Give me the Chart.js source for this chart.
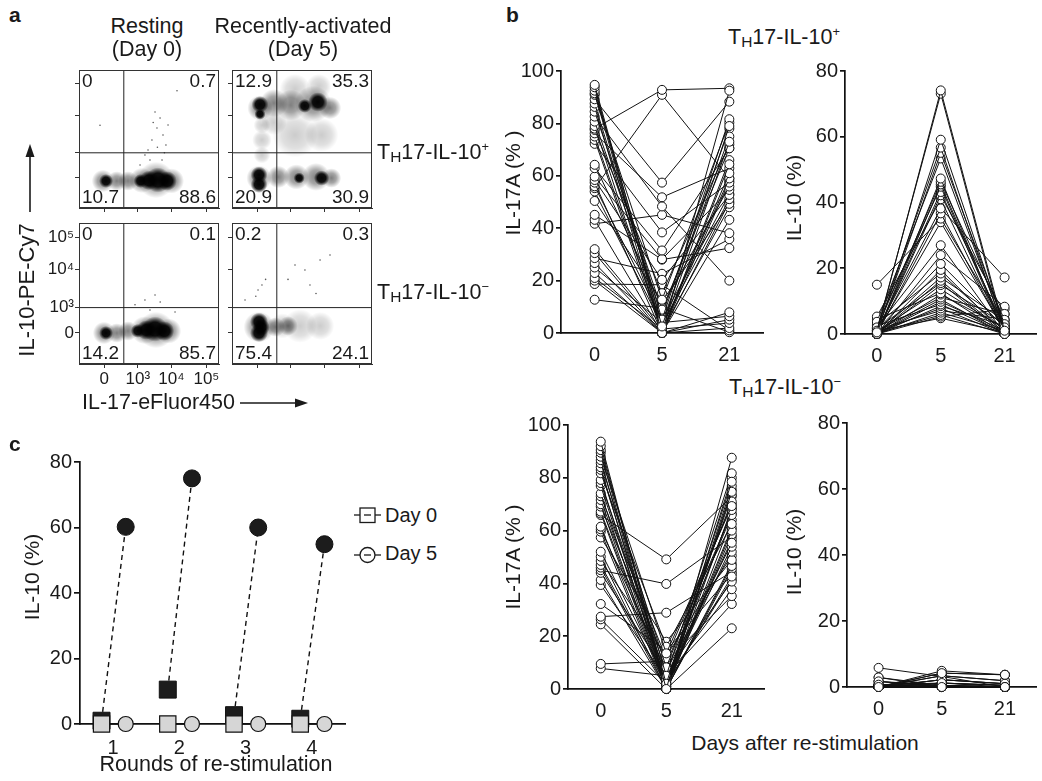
<!DOCTYPE html>
<html lang="en"><head><meta charset="utf-8"><title>TH17 IL-10 figure</title>
<script src="https://cdn.jsdelivr.net/npm/chart.js@4.4.1/dist/chart.umd.min.js"></script>
<style>
html,body{margin:0;padding:0;background:#fff;}
body{width:1042px;height:781px;position:relative;overflow:hidden;font-family:"Liberation Sans",Arial,Helvetica,sans-serif;color:#1a1a1a;}
.box{position:absolute;}
.box canvas{display:block;}
.t{position:absolute;white-space:nowrap;line-height:1;}
.t sub{font-size:0.72em;position:relative;top:0.22em;vertical-align:baseline;line-height:0;}
.t sup{font-size:0.6em;position:relative;top:-0.62em;vertical-align:baseline;line-height:0;}
svg.ov{position:absolute;left:0;top:0;pointer-events:none;}
</style></head><body>
<script>
// ================= DATA =================
// ---- panel a: flow plots (display units 0-100 along each axis) ----
const flowXTicks = [18, 42, 66, 91];
const flowYTicks = [22, 40, 67, 90];
const flowTickLabels = ['0', '10³', '10⁴', '10⁵'];
const gateIL17 = 32;   // vertical quadrant gate
const gateIL10 = 40;   // horizontal quadrant gate
const quadRestPos = ['0', '0.7', '10.7', '88.6'];
const quadActPos  = ['12.9', '35.3', '20.9', '30.9'];
const quadRestNeg = ['0', '0.1', '14.2', '85.7'];
const quadActNeg  = ['0.2', '0.3', '75.4', '24.1'];
// populations: x, y, s = spread (axis units)
const restPosCore = [{x:19.3,y:19.6,s:5},{x:44,y:19.6,s:5},{x:50,y:20,s:7},{x:56.4,y:20.3,s:9},{x:63,y:19.6,s:7}];
const restPosHalo = [{x:17.1,y:19.6,s:8},{x:27,y:19.6,s:7},{x:35,y:19.6,s:7},{x:45,y:20,s:9},{x:55,y:20.3,s:13},{x:66,y:19.6,s:9}];
const restPosDots = [{x:49.3,y:42},{x:52.1,y:49.3},{x:55.7,y:58},{x:57.9,y:65.2},{x:60,y:52.9},{x:50.7,y:34.8},{x:62.1,y:45.7},{x:54.3,y:69.6},{x:47.1,y:38.4},{x:63.6,y:60.1},{x:59.3,y:34.8},{x:43.6,y:31.2},{x:15,y:60},{x:70,y:85},{x:56,y:44},{x:53,y:62},{x:61,y:40}];
const actPosCore = [{x:20,y:75,s:6},{x:20,y:68,s:4},{x:19.3,y:24,s:6},{x:19.3,y:17,s:6},{x:61.4,y:76.8,s:7},{x:52,y:74,s:5},{x:64,y:21.7,s:5.5},{x:48,y:21.7,s:4}];
const actPosHalo = [{x:30,y:76,s:10},{x:42,y:74.6,s:11},{x:58,y:75.4,s:13},{x:70,y:72.5,s:8},{x:20,y:72.5,s:9},{x:19.3,y:21.7,s:9},{x:33,y:22.5,s:8},{x:46,y:22.5,s:9},{x:60,y:22.5,s:10},{x:71,y:21.7,s:7}];
const actPosHaze = [{x:45,y:52.9,s:16},{x:21.4,y:49.3,s:7},{x:64,y:52.9,s:12},{x:21.4,y:60,s:6},{x:21.4,y:38.4,s:6},{x:45,y:86,s:11},{x:62,y:88,s:9},{x:30,y:62,s:9}];
const restNegCore = [{x:19.3,y:22,s:5},{x:42,y:23.5,s:5},{x:48,y:24.1,s:7},{x:54.3,y:24.8,s:9},{x:61,y:23.4,s:7}];
const restNegHalo = [{x:17.9,y:22,s:8},{x:27,y:22,s:7},{x:35,y:23.4,s:7},{x:47,y:24,s:10},{x:55,y:24.1,s:13},{x:64,y:23.4,s:9}];
const restNegDots = [{x:47.1,y:45.4},{x:50.7,y:38.3},{x:68.6,y:36.9},{x:54.3,y:48.9},{x:40,y:42},{x:58,y:44}];
const actNegCore = [{x:19.3,y:30,s:6.5},{x:19.3,y:22,s:6.5},{x:21,y:26,s:6}];
const actNegHalo = [{x:19.3,y:26.2,s:11},{x:31,y:26.2,s:7},{x:40,y:27,s:7}];
const actNegHaze = [{x:48.6,y:27,s:12},{x:63,y:27,s:10},{x:36,y:27,s:9}];
const actNegDots = [{x:18.6,y:52.5},{x:21.4,y:56},{x:45,y:70.2},{x:52.1,y:66.7},{x:62.9,y:73.8},{x:70,y:77.3},{x:55.7,y:56},{x:9.3,y:45.4},{x:40,y:60},{x:60,y:50},{x:24,y:60},{x:17,y:48}];

// ---- panel b: individual donors, days after re-stimulation ----
const dayLabels = ['0', '5', '21'];
// TH17-IL-10+ : IL-17A (%)
const posIL17Day0  = [94.7,93.8,92.5,91.5,90.9,89.2,87.6,86.3,84.5,82.6,80.7,79,78,77.5,76.2,75,73.7,72.2,64.2,62.9,59.7,58.4,57.4,56,55.3,54,50.4,45.1,43.2,41.7,32,30.5,28.6,26.7,25,22.9,21,20,18.7,12.7];
const posIL17Day5  = [2.5,0,5.1,1.3,12.7,57.4,3.8,0,8.9,48.3,7,0.5,92.8,15.2,51.8,2,0,38.4,10.2,31.5,28.2,20.3,0,5,90.9,3,12,28,0,45.1,1,0,22.6,0,4,0,1.5,0,18.4,9.5];
const posIL17Day21 = [79,92.5,81.6,73,80.3,88.3,75,64.4,70.5,20,78,61,93.4,72,62.9,59,66,57.4,55.9,70.5,54.6,52.7,58,53,59,51.1,49.3,32.4,50,38.1,48,43.2,35.8,7.9,6.4,5.1,3.8,1.9,1,0.3];
// TH17-IL-10+ : IL-10 (%)
const posIL10Day0  = [0.5,1,0,2,0.7,3.7,0,1.7,0,2.7,0.3,0,5.3,1,0,15,0.5,2,0,1.2,0,3,0.4,0,1.7,0,0.8,4.5,0,1,0.2,0,2.5,0,0.6,1.4,0,0.3,0,1];
const posIL10Day5  = [74.1,73.1,59.1,56.7,55.1,53.4,47.3,46.3,45.5,44.8,43.2,42.2,41,38.2,36.7,35.1,34,27,24,21.3,19.5,18.4,17.2,16.2,15.5,14.9,13.6,12.4,12,11.1,10.5,9.8,9,8.5,7.8,7.1,6.5,5.8,5.3,4.8];
const posIL10Day21 = [1,0,2,0.5,3,1.5,0,4.3,1,0,2,6.1,0,17.2,0.5,3,1,0,8.3,2,0,1,4,0.5,0,3,1.5,0,2,6,0,1,0.3,2.5,0,4.5,1,0,7.5,0.5];
// TH17-IL-10- : IL-17A (%)
const negIL17Day0  = [93.7,92,90.5,89.5,88,86.7,85.5,84,83,81.7,79.2,78,76.9,74.1,73,71.6,70,69.1,67.2,66.5,65.9,61.5,60.5,59.6,57.4,52,50.1,48.5,47,46,45,44,41.3,39.4,32.2,27.4,26.4,24.5,9.5,7.8];
const negIL17Day5  = [0,2,5,0,13.5,1,8.2,0,3.4,16,0,6.6,1.9,0,11.6,4.9,0,9.7,2.5,0,49.1,0.9,7,0,17.9,3,0,12.5,1.5,0,39.8,6,0,4,14.5,28.9,2,0,10.5,5];
const negIL17Day21 = [87.6,78.5,81.7,74.7,69.3,80,71,76.9,67.8,62.5,75.5,65.9,73.5,60,70,55.4,68.5,66.5,53.9,64,72.9,61,52,58.5,48.9,56.5,46.6,50.5,42.6,47.5,57.7,40.7,45.5,37.8,43.5,44.4,41.5,23,35.2,32.2];
// TH17-IL-10- : IL-10 (%)
const negIL10Day0  = [0,0.7,0,1.7,0,0,2.9,0,0.3,0, 0,5.8,0,0.7,0,0,1.7,0,0,0.3, 0,0,0.7,0,2.9,0,0,0.3,0,0, 1.7,0,0,0.7,0,0,0.3,0,0,0];
const negIL10Day5  = [0,1.2,4.2,0,2.2,0,0.5,3.4,0,1.2, 0,3.2,0,0,4.9,0,0.5,2.2,0,0, 1.2,0,0,3.4,0,0,0.5,0,4.2,0, 0,2.2,0,0,1.2,0,0,0.5,0,0];
const negIL10Day21 = [0,0,3.7,0,1,0,0,1.9,0,0.5, 0,0,0,0,3.7,0,0,1,0,0, 0.5,0,0,1.9,0,0,0,0,3.7,0, 0,1,0,0,0.5,0,0,0,0,0];

// ---- panel c: rounds of re-stimulation ----
const rounds = [1, 2, 3, 4];
const roundLabels = ['1', '2', '3', '4'];
const cPosDay0 = [1, 10.5, 2.7, 1.6];
const cPosDay5 = [60.2, 75, 60, 54.9];
const cNegDay0 = [0, 0, 0, 0];
const cNegDay5 = [0, 0, 0, 0];

// ================= RENDERING =================
const FONT = '"Liberation Sans", Arial, Helvetica, sans-serif';
const INK = '#1a1a1a';
Chart.defaults.font.family = FONT;
Chart.defaults.color = INK;
Chart.defaults.animation = false;
Chart.defaults.events = [];
Chart.defaults.plugins.legend.display = false;
Chart.defaults.plugins.tooltip.enabled = false;

function mount(left, top, width, height) {
  const d = document.createElement('div');
  d.className = 'box';
  d.style.left = left + 'px'; d.style.top = top + 'px';
  d.style.width = width + 'px'; d.style.height = height + 'px';
  const c = document.createElement('canvas');
  d.appendChild(c);
  document.body.appendChild(d);
  return c;
}

// ---------- panel a ----------
const quadPlugin = {
  id: 'quad',
  afterDatasetsDraw(chart, args, opts) {
    const {ctx, chartArea: {left, top, right, bottom}} = chart;
    ctx.save();
    ctx.strokeStyle = '#333'; ctx.lineWidth = 1;
    ctx.strokeRect(left + 0.5, top + 0.5, right - left - 1, bottom - top - 1);
    ctx.font = '19px ' + FONT;
    ctx.fillStyle = INK;
    const q = opts.labels;
    ctx.textBaseline = 'top';
    ctx.textAlign = 'left'; ctx.fillText(q[0], left + 3, top + 2);
    ctx.textAlign = 'right'; ctx.fillText(q[1], right - 3, top + 2);
    ctx.textBaseline = 'alphabetic';
    ctx.textAlign = 'left'; ctx.fillText(q[2], left + 3, bottom - 5);
    ctx.textAlign = 'right'; ctx.fillText(q[3], right - 3, bottom - 5);
    ctx.restore();
  }
};

function spreadPx(chart, s) {
  const sc = chart.scales.x;
  if (!sc) return 1;
  const v = Math.abs(sc.getPixelForValue(s) - sc.getPixelForValue(0));
  return isFinite(v) && v > 0 ? v : 1;
}
// density shading: soft radial blobs
function layer(data, stops, order) {
  const flat = stops ? 'rgba(0,0,0,' + stops[0][1] + ')' : 'rgba(0,0,0,0.65)';
  return {
    type: 'scatter', data, order,
    pointRadius: ctx => (ctx.raw && ctx.raw.s) ? spreadPx(ctx.chart, ctx.raw.s) : 0.8,
    pointBackgroundColor: ctx => {
      const raw = ctx.raw;
      if (!stops || !raw || !raw.s) return flat;
      const ch = ctx.chart;
      if (!ch.scales || !ch.scales.x || !ch.scales.y) return flat;
      const cx = ch.scales.x.getPixelForValue(raw.x);
      const cy = ch.scales.y.getPixelForValue(raw.y);
      const r = spreadPx(ch, raw.s);
      if (![cx, cy, r].every(Number.isFinite)) return flat;
      const g = ch.ctx.createRadialGradient(cx, cy, 0, cx, cy, r);
      stops.forEach(([p, a]) => g.addColorStop(p, 'rgba(0,0,0,' + a + ')'));
      return g;
    },
    pointBorderWidth: 0, pointBorderColor: 'rgba(0,0,0,0)', clip: false
  };
}
const CORE = [[0, 0.97], [0.55, 0.9], [1, 0]];
const HALO = [[0, 0.5], [0.5, 0.35], [1, 0]];
const HAZE = [[0, 0.2], [0.6, 0.12], [1, 0]];
function flowChart(L, T, W, H, layers, quads, showLabels) {
  const canvas = mount(L - 45, T - 14, W + 51, H + 44);
  const datasets = [];
  if (layers.haze) datasets.push(layer(layers.haze, HAZE, 5));
  if (layers.halo) datasets.push(layer(layers.halo, HALO, 4));
  if (layers.core) datasets.push(layer(layers.core, CORE, 3));
  if (layers.dots) datasets.push(layer(layers.dots, null, 2));
  datasets.push({type: 'line', data: [{x: gateIL17, y: 0}, {x: gateIL17, y: 100}], borderColor: '#222', borderWidth: 1, pointRadius: 0, order: 0});
  datasets.push({type: 'line', data: [{x: 0, y: gateIL10}, {x: 100, y: gateIL10}], borderColor: '#222', borderWidth: 1, pointRadius: 0, order: 0});
  const axis = (ticks, fitFn) => ({
    type: 'linear', min: 0, max: 100,
    afterBuildTicks: s => { s.ticks = ticks.map(v => ({value: v})); },
    ticks: {display: showLabels, autoSkip: false, maxRotation: 0, callback: (v, i) => flowTickLabels[i], font: {size: 17}, padding: 1, color: INK},
    grid: {display: true, drawOnChartArea: false, drawTicks: true, tickLength: 4, color: '#333', lineWidth: 1},
    border: {display: true, color: '#333', width: 1},
    afterFit: fitFn
  });
  new Chart(canvas, {
    type: 'scatter',
    data: {datasets},
    options: {
      responsive: true, maintainAspectRatio: false,
      layout: {padding: {top: 14, right: 6, left: 0, bottom: 0}},
      scales: {
        x: axis(flowXTicks, s => { s.height = 30; }),
        y: axis(flowYTicks, s => { s.width = 45; })
      },
      plugins: {quad: {labels: quads}}
    },
    plugins: [quadPlugin]
  });
}
flowChart(79, 70, 140, 138, {halo: restPosHalo, core: restPosCore, dots: restPosDots}, quadRestPos, false);
flowChart(232, 70, 140, 138, {haze: actPosHaze, halo: actPosHalo, core: actPosCore}, quadActPos, false);
flowChart(79, 223, 140, 141, {halo: restNegHalo, core: restNegCore, dots: restNegDots}, quadRestNeg, true);
flowChart(232, 223, 140, 141, {haze: actNegHaze, halo: actNegHalo, core: actNegCore, dots: actNegDots}, quadActNeg, false);

// ---------- panel b ----------
function pairChart(left, plotTop, width, plotBottom, axisW, padRight, d0, d5, d21, yMax) {
  const top = plotTop - 14;
  const canvas = mount(left, top, width, plotBottom - top + 40);
  const datasets = d0.map((v, i) => ({
    data: [v, d5[i], d21[i]],
    borderColor: '#111', borderWidth: 1, tension: 0, fill: false,
    pointRadius: 4.5, pointBorderWidth: 1, pointBackgroundColor: '#fff', pointBorderColor: '#111', clip: false
  }));
  new Chart(canvas, {
    type: 'line',
    data: {labels: dayLabels, datasets},
    options: {
      responsive: true, maintainAspectRatio: false,
      layout: {padding: {top: 14, right: padRight, left: 0, bottom: 0}},
      scales: {
        x: {type: 'category', offset: true,
            grid: {display: true, offset: false, drawOnChartArea: false, drawTicks: false},
            border: {display: true, color: '#111', width: 1.7},
            ticks: {font: {size: 20}, padding: 10, color: INK, maxRotation: 0},
            afterFit: s => { s.height = 40; }},
        y: {min: 0, max: yMax,
            ticks: {stepSize: 20, font: {size: 20}, padding: 2, color: INK},
            grid: {display: true, drawOnChartArea: false, tickLength: 5, color: '#111', lineWidth: 1.7},
            border: {display: true, color: '#111', width: 1.7},
            afterFit: s => { s.width = axisW; }}
      }
    }
  });
}
pairChart(480, 71, 290, 333, 81, 7, posIL17Day0, posIL17Day5, posIL17Day21, 100);
pairChart(760, 71, 282, 334, 85, 2, posIL10Day0, posIL10Day5, posIL10Day21, 80);
pairChart(480, 425, 290, 689, 88, 5, negIL17Day0, negIL17Day5, negIL17Day21, 100);
pairChart(760, 423, 282, 687, 87, 0, negIL10Day0, negIL10Day5, negIL10Day21, 80);

// ---------- panel c ----------
(function () {
  const SQ_OFF = -0.175, CI_OFF = 0.19;
  const datasets = [];
  rounds.forEach((r, i) => {
    datasets.push({
      data: [{x: r + SQ_OFF, y: cNegDay0[i]}, {x: r + CI_OFF, y: cNegDay5[i]}],
      showLine: true, borderColor: '#111', borderWidth: 1.4,
      pointStyle: ['rect', 'circle'], pointRadius: [11.5, 7.5],
      pointBackgroundColor: '#d6d6d6', pointBorderColor: '#111', pointBorderWidth: 1.2,
      order: 0, clip: false
    });
    datasets.push({
      data: [{x: r + SQ_OFF, y: cPosDay0[i]}, {x: r + CI_OFF, y: cPosDay5[i]}],
      showLine: true, borderColor: '#111', borderWidth: 1.4, borderDash: [5, 4],
      pointStyle: ['rect', 'circle'], pointRadius: [12, 8.5],
      pointBackgroundColor: '#1c1c1c', pointBorderColor: '#111', pointBorderWidth: 1,
      order: 1, clip: false
    });
  });
  const canvas = mount(0, 448, 360, 320);
  new Chart(canvas, {
    type: 'scatter',
    data: {datasets},
    options: {
      responsive: true, maintainAspectRatio: false,
      layout: {padding: {top: 14, right: 15, left: 0, bottom: 0}},
      scales: {
        x: {type: 'linear', min: 0.5, max: 4.5,
            afterBuildTicks: s => { s.ticks = rounds.map(v => ({value: v})); },
            ticks: {autoSkip: false, maxRotation: 0, callback: (v, i) => roundLabels[i], font: {size: 20}, padding: 12, color: INK},
            grid: {display: true, drawOnChartArea: false, drawTicks: false},
            border: {display: true, color: '#111', width: 1.7},
            afterFit: s => { s.height = 44; }},
        y: {min: 0, max: 80,
            ticks: {stepSize: 20, font: {size: 20}, padding: 2, color: INK},
            grid: {display: true, drawOnChartArea: false, tickLength: 6, color: '#111', lineWidth: 1.7},
            border: {display: true, color: '#111', width: 1.7},
            afterFit: s => { s.width = 80; }}
      }
    }
  });
})();

// ---------- text ----------
function text(html, x, base, size, align, bold) {
  const d = document.createElement('div');
  d.className = 't';
  d.innerHTML = html;
  d.style.fontSize = size + 'px';
  d.style.top = (base - 0.8465 * size) + 'px';
  d.style.left = x + 'px';
  if (bold) d.style.fontWeight = 'bold';
  if (align === 'center') d.style.transform = 'translateX(-50%)';
  document.body.appendChild(d);
}
function vtext(html, cx, cy, size) {
  const d = document.createElement('div');
  d.className = 't';
  d.innerHTML = html;
  d.style.fontSize = size + 'px';
  d.style.left = cx + 'px'; d.style.top = cy + 'px';
  d.style.transform = 'translate(-50%,-50%) rotate(-90deg)';
  document.body.appendChild(d);
}
const th17pos = 'T<sub>H</sub>17-IL-10<sup>+</sup>';
const th17neg = 'T<sub>H</sub>17-IL-10<sup>−</sup>';
text('a', 9, 22, 21, 'left', true);
text('b', 506, 22, 21, 'left', true);
text('c', 9, 451, 21, 'left', true);
text('Resting', 147, 34, 21.5, 'center');
text('(Day 0)', 147, 57, 21.5, 'center');
text('Recently-activated', 303, 34, 21.5, 'center');
text('(Day 5)', 303, 57, 21.5, 'center');
text(th17pos, 377, 160, 21.5, 'left');
text(th17neg, 377, 300, 21.5, 'left');
text('IL-17-eFluor450', 82, 410, 21.5, 'left');
vtext('IL-10-PE-Cy7', 27, 290, 22);
text(th17pos, 784, 45, 21.5, 'center');
text(th17neg, 785, 395, 21.5, 'center');
vtext('IL-17A (% )', 512, 183, 21);
vtext('IL-10 (%)', 793, 198, 21);
vtext('IL-17A (% )', 512, 557, 21);
vtext('IL-10 (%)', 793, 552, 21);
text('Days after re-stimulation', 805, 750, 21, 'center');
vtext('IL-10 (%)', 31, 577, 21);
text('Rounds of re-stimulation', 216, 772, 21.5, 'center');
text('Day 0', 385, 522, 20, 'left');
text('Day 5', 385, 560, 20, 'left');

// ---------- arrows & legend symbols ----------
const NS = 'http://www.w3.org/2000/svg';
const svg = document.createElementNS(NS, 'svg');
svg.setAttribute('class', 'ov');
svg.setAttribute('width', 1042); svg.setAttribute('height', 781);
svg.innerHTML =
  '<line x1="30" y1="212" x2="30" y2="152" stroke="#1a1a1a" stroke-width="1.6"/>' +
  '<polygon points="30,144 25.5,157 34.5,157" fill="#1a1a1a"/>' +
  '<line x1="240" y1="403" x2="299" y2="403" stroke="#1a1a1a" stroke-width="1.6"/>' +
  '<polygon points="308,403 295,398.5 295,407.5" fill="#1a1a1a"/>' +
  '<line x1="354" y1="515" x2="381" y2="515" stroke="#1a1a1a" stroke-width="1.3"/>' +
  '<rect x="360" y="508" width="15" height="14.5" fill="#fff" stroke="#1a1a1a" stroke-width="1.3"/>' +
  '<line x1="364" y1="515" x2="371" y2="515" stroke="#1a1a1a" stroke-width="1.3"/>' +
  '<line x1="354" y1="555" x2="381" y2="555" stroke="#1a1a1a" stroke-width="1.3"/>' +
  '<circle cx="367.5" cy="555" r="7.5" fill="#fff" stroke="#1a1a1a" stroke-width="1.3"/>' +
  '<line x1="364" y1="555" x2="371" y2="555" stroke="#1a1a1a" stroke-width="1.3"/>';
document.body.appendChild(svg);
</script>
</body></html>
